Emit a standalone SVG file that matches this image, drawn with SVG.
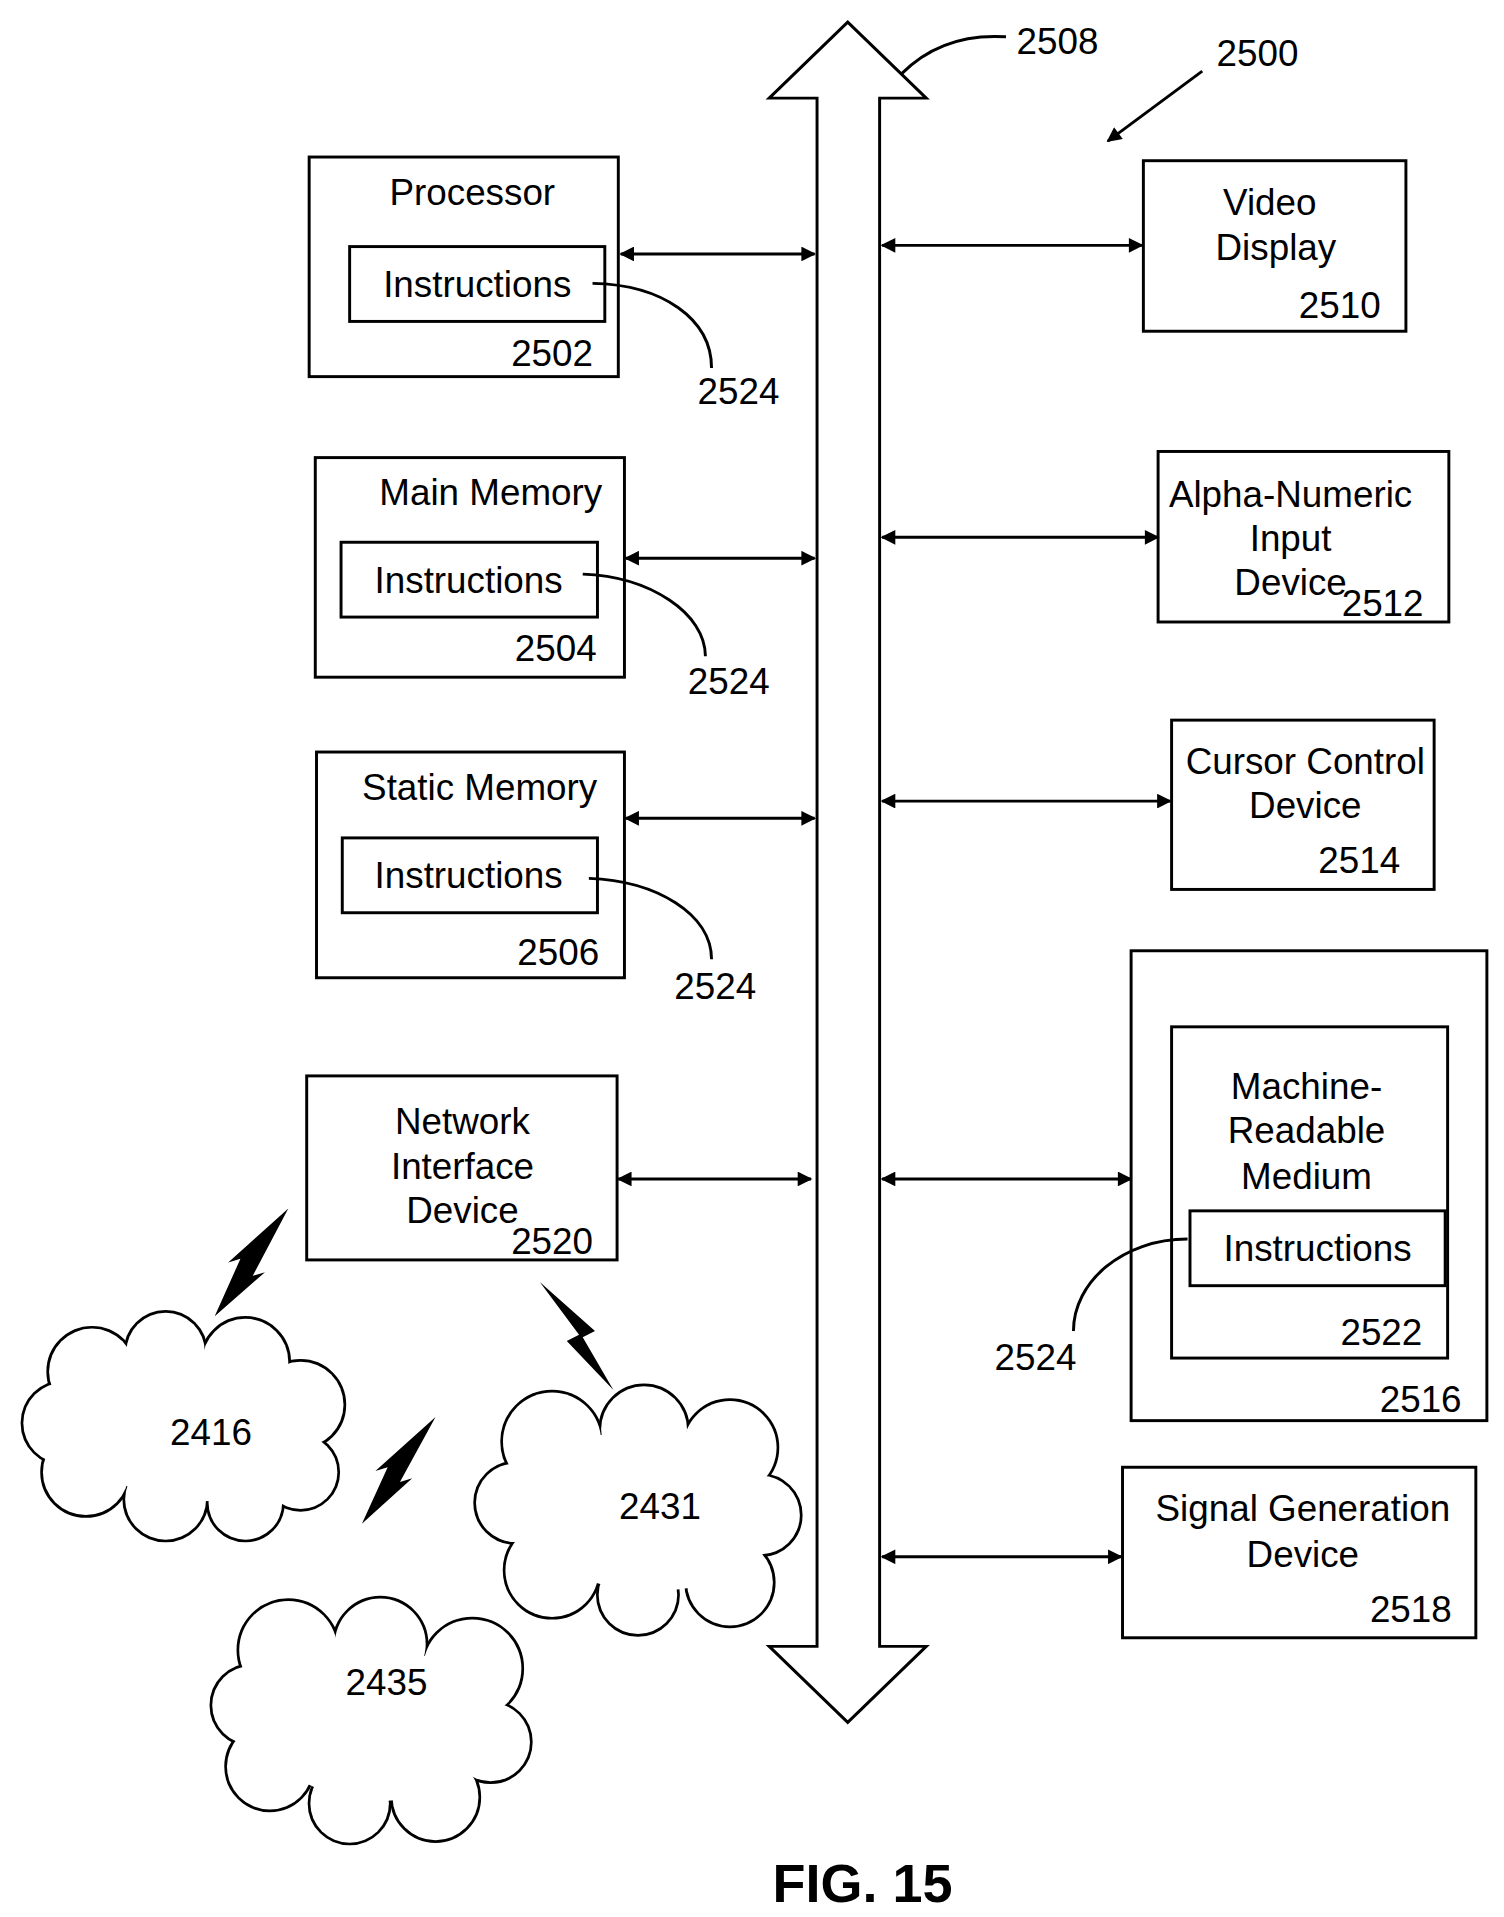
<svg xmlns="http://www.w3.org/2000/svg" width="1504" height="1917" viewBox="0 0 1504 1917">
<defs>
<style>
.b{fill:none;stroke:#000;stroke-width:2.4}
.t{font-family:"Liberation Sans",Arial,sans-serif;font-size:30px;fill:#000;text-anchor:middle}
.c{fill:none;stroke:#000;stroke-width:2.4}
.cs circle{fill:none;stroke:#000;stroke-width:4.4}
.cf circle,.cf polygon{fill:#fff;stroke:none}
</style>
<marker id="a" viewBox="0 0 10 10" refX="9" refY="5" markerWidth="13" markerHeight="12" markerUnits="userSpaceOnUse" orient="auto-start-reverse"><path d="M0,0L10,5L0,10z" fill="#000"/></marker>
</defs>
<rect width="1504" height="1917" fill="#fff"/>
<g transform="scale(1.2268)">
<g id="bus"><path class="b" d="M666,1342V80H627L691,18L755,80H717V1342H755L691,1404L627,1342Z"/>
<path class="c" d="M735,60C760,35 790,28 820,30"/><text class="t" x="862" y="44">2508</text></g>
<g id="ref2500"><text class="t" x="1025" y="54">2500</text><line class="c" x1="980" y1="58" x2="903" y2="115" marker-end="url(#a)"/></g>
<g id="connectors">
<line class="c" x1="506" y1="207" x2="664" y2="207" marker-start="url(#a)" marker-end="url(#a)"/>
<line class="c" x1="510" y1="455" x2="664" y2="455" marker-start="url(#a)" marker-end="url(#a)"/>
<line class="c" x1="510" y1="667" x2="664" y2="667" marker-start="url(#a)" marker-end="url(#a)"/>
<line class="c" x1="504" y1="961" x2="661" y2="961" marker-start="url(#a)" marker-end="url(#a)"/>
<line class="c" x1="719" y1="200" x2="931" y2="200" marker-start="url(#a)" marker-end="url(#a)"/>
<line class="c" x1="719" y1="438" x2="944" y2="438" marker-start="url(#a)" marker-end="url(#a)"/>
<line class="c" x1="719" y1="653" x2="954" y2="653" marker-start="url(#a)" marker-end="url(#a)"/>
<line class="c" x1="719" y1="961" x2="922" y2="961" marker-start="url(#a)" marker-end="url(#a)"/>
<line class="c" x1="719" y1="1269" x2="914" y2="1269" marker-start="url(#a)" marker-end="url(#a)"/>
</g>
<g id="n2502"><rect class="b" x="252" y="128" width="252" height="179"/><text class="t" x="385" y="167">Processor</text>
<rect class="b" x="285" y="201" width="208" height="61"/><text class="t" x="389" y="242">Instructions</text><text class="t" x="450" y="298">2502</text>
<path class="c" d="M483,231C540,232 580,260 580,300"/><text class="t" x="602" y="329">2524</text></g>
<g id="n2504"><rect class="b" x="257" y="373" width="252" height="179"/><text class="t" x="400" y="412">Main Memory</text>
<rect class="b" x="278" y="442" width="209" height="61"/><text class="t" x="382" y="483">Instructions</text><text class="t" x="453" y="539">2504</text>
<path class="c" d="M475,468C530,470 575,500 575,535"/><text class="t" x="594" y="566">2524</text></g>
<g id="n2506"><rect class="b" x="258" y="613" width="251" height="184"/><text class="t" x="391" y="652">Static Memory</text>
<rect class="b" x="279" y="683" width="208" height="61"/><text class="t" x="382" y="724">Instructions</text><text class="t" x="455" y="787">2506</text>
<path class="c" d="M480,716C535,718 580,745 580,782"/><text class="t" x="583" y="814">2524</text></g>
<g id="n2520"><rect class="b" x="250" y="877" width="253" height="150"/><text class="t" x="377" y="924">Network</text><text class="t" x="377" y="961">Interface</text><text class="t" x="377" y="997">Device</text><text class="t" x="450" y="1022">2520</text></g>
<g id="n2510"><rect class="b" x="932" y="131" width="214" height="139"/><text class="t" x="1035" y="175">Video</text><text class="t" x="1040" y="212">Display</text><text class="t" x="1092" y="259">2510</text></g>
<g id="n2512"><rect class="b" x="944" y="368" width="237" height="139"/><text class="t" x="1052" y="413">Alpha-Numeric</text><text class="t" x="1052" y="449">Input</text><text class="t" x="1052" y="485">Device</text><text class="t" x="1127" y="502">2512</text></g>
<g id="n2514"><rect class="b" x="955" y="587" width="214" height="138"/><text class="t" x="1064" y="631">Cursor Control</text><text class="t" x="1064" y="667">Device</text><text class="t" x="1108" y="712">2514</text></g>
<g id="n2516"><rect class="b" x="922" y="775" width="290" height="383"/><text class="t" x="1158" y="1151">2516</text>
<rect class="b" x="955" y="837" width="225" height="270"/><text class="t" x="1065" y="896">Machine-</text><text class="t" x="1065" y="932">Readable</text><text class="t" x="1065" y="969">Medium</text>
<rect class="b" x="970" y="987" width="208" height="61"/><text class="t" x="1074" y="1028">Instructions</text><text class="t" x="1126" y="1096">2522</text>
<path class="c" d="M968,1010C915,1010 875,1045 875,1085"/><text class="t" x="844" y="1117">2524</text></g>
<g id="n2518"><rect class="b" x="915" y="1196" width="288" height="139"/><text class="t" x="1062" y="1240">Signal Generation</text><text class="t" x="1062" y="1277">Device</text><text class="t" x="1150" y="1322">2518</text></g>
<g id="c2416"><g class="cs"><circle cx="75" cy="1118" r="35"/><circle cx="135" cy="1102" r="32"/><circle cx="200" cy="1110" r="35"/><circle cx="245" cy="1145" r="35"/><circle cx="245" cy="1200" r="30"/><circle cx="200" cy="1225" r="30"/><circle cx="135" cy="1222" r="33"/><circle cx="70" cy="1200" r="35"/><circle cx="52" cy="1160" r="33"/></g>
<g class="cf"><circle cx="75" cy="1118" r="35"/><circle cx="135" cy="1102" r="32"/><circle cx="200" cy="1110" r="35"/><circle cx="245" cy="1145" r="35"/><circle cx="245" cy="1200" r="30"/><circle cx="200" cy="1225" r="30"/><circle cx="135" cy="1222" r="33"/><circle cx="70" cy="1200" r="35"/><circle cx="52" cy="1160" r="33"/><polygon points="75,1118 135,1102 200,1110 245,1145 245,1200 200,1225 135,1222 70,1200 52,1160"/></g>
<text class="t" x="172" y="1178">2416</text></g>
<g id="c2431"><g class="cs"><circle cx="450" cy="1175" r="40"/><circle cx="525" cy="1165" r="35"/><circle cx="595" cy="1180" r="38"/><circle cx="620" cy="1235" r="32"/><circle cx="595" cy="1290" r="35"/><circle cx="520" cy="1300" r="32"/><circle cx="450" cy="1280" r="38"/><circle cx="420" cy="1225" r="32"/></g>
<g class="cf"><circle cx="450" cy="1175" r="40"/><circle cx="525" cy="1165" r="35"/><circle cx="595" cy="1180" r="38"/><circle cx="620" cy="1235" r="32"/><circle cx="595" cy="1290" r="35"/><circle cx="520" cy="1300" r="32"/><circle cx="450" cy="1280" r="38"/><circle cx="420" cy="1225" r="32"/><polygon points="450,1175 525,1165 595,1180 620,1235 595,1290 520,1300 450,1280 420,1225"/></g>
<text class="t" x="538" y="1238">2431</text></g>
<g id="c2435"><g class="cs"><circle cx="235" cy="1345" r="40"/><circle cx="310" cy="1340" r="37"/><circle cx="385" cy="1360" r="40"/><circle cx="400" cy="1420" r="32"/><circle cx="355" cy="1465" r="35"/><circle cx="285" cy="1470" r="32"/><circle cx="220" cy="1440" r="35"/><circle cx="205" cy="1390" r="32"/></g>
<g class="cf"><circle cx="235" cy="1345" r="40"/><circle cx="310" cy="1340" r="37"/><circle cx="385" cy="1360" r="40"/><circle cx="400" cy="1420" r="32"/><circle cx="355" cy="1465" r="35"/><circle cx="285" cy="1470" r="32"/><circle cx="220" cy="1440" r="35"/><circle cx="205" cy="1390" r="32"/><polygon points="235,1345 310,1340 385,1360 400,1420 355,1465 285,1470 220,1440 205,1390"/></g>
<text class="t" x="315" y="1382">2435</text></g>
<g id="bolts" fill="#000">
<polygon points="235,985 206,1040 216,1037 175,1073 196,1026 186,1029"/>
<polygon points="440,1045 485,1085 475,1090 500,1133 462,1093 472,1088"/>
<polygon points="355,1155 326,1208 336,1205 295,1242 316,1196 306,1199"/>
</g>
<text x="703" y="1550" style="font-family:'Liberation Sans',Arial,sans-serif;font-size:44px;font-weight:bold;text-anchor:middle">FIG. 15</text>
</g>
</svg>
